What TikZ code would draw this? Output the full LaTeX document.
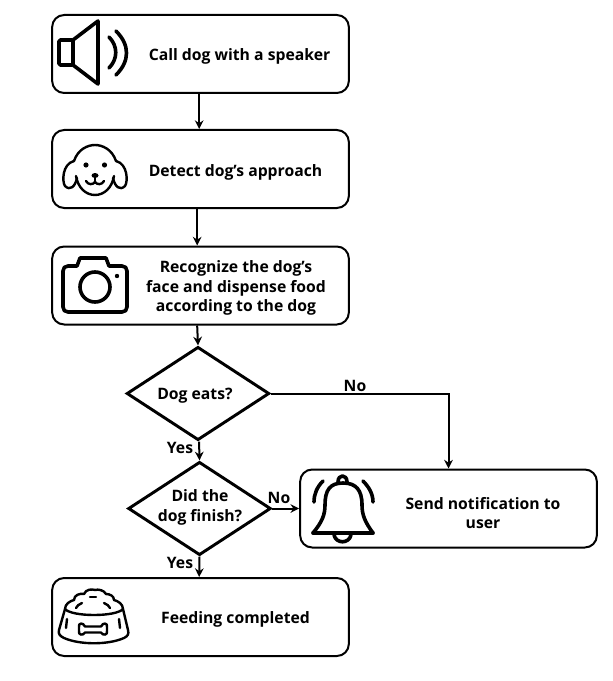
\documentclass[tikz,border=0pt]{standalone}
\usepackage{fontspec}
\setmainfont{Open Sans}
\usetikzlibrary{shapes.geometric}
\usetikzlibrary{arrows.meta}
\tikzset{
  flowbox/.style={draw=black, line width=1.5pt, rounded corners=9pt, minimum width=222.5pt, minimum height=58.5pt, inner sep=0pt},
  flowdiamond/.style={draw=black, line width=2.2pt, shape=diamond, minimum width=107pt, minimum height=70pt, inner sep=0pt},
  flowtext/.style={font=\bfseries\fontsize{11.8}{14.7}\selectfont, align=center, inner sep=0pt},
  flowlabel/.style={font=\bfseries\fontsize{11.8}{14}\selectfont, inner sep=0pt},
  flowarrow/.style={line width=1.5pt, -{Stealth[length=6.5pt,width=6.5pt]}},
  iconline/.style={line width=2.7pt, line cap=round, line join=round},
  iconthin/.style={line width=1.8pt, line cap=round, line join=round}
}
\begin{document}
\begin{tikzpicture}[x=0.75pt, y=-0.75pt]
  \newcommand\boxx{200.5}
  \useasboundingbox (0,0) rectangle (613,681);

  \node[flowbox] (callbox) at (\boxx,54) {};
  \node[flowbox] (detectbox) at (\boxx,169) {};
  \node[flowbox] (recognizebox) at (\boxx,285.5) {};
  \node[flowbox] (notifybox) at (448.5,508.5) {};
  \node[flowbox] (feedingbox) at (\boxx,617) {};

  \node[flowdiamond] (eatsdiamond) at (198,393.5) {};
  \node[flowdiamond] (finishdiamond) at (199.5,508.5) {};

  \node[flowtext] (calltext) at (239.5,56.5) {Call dog with a speaker};
  \node[flowtext] (detecttext) at (235.5,172.5) {Detect dog’s approach};
  \node[flowtext] (recognizetext) at (236,288) {Recognize the dog’s\\face and dispense food\\according to the dog};
  \node[flowtext] (eatstext) at (195,396) {Dog eats?};
  \node[flowtext] (finishtext) at (200,507.5) {Did the\\dog finish?};
  \node[flowtext] (notifytext) at (483,513) {Send notification to\\user};
  \node[flowtext] (feedingtext) at (235.5,619.5) {Feeding completed};

  \node[flowlabel] (nolabela) at (355,386) {No};
  \node[flowlabel] (yeslabela) at (180,448) {Yes};
  \node[flowlabel] (nolabelb) at (279,498) {No};
  \node[flowlabel] (yeslabelb) at (180,563) {Yes};

  \draw[flowarrow] ([xshift=-1pt]callbox.south) -- ([xshift=-1pt]detectbox.north);
  \draw[flowarrow] ([xshift=-2.5pt]detectbox.south) -- ([xshift=-2.5pt]recognizebox.north);
  \draw[flowarrow] ([xshift=-2.5pt]recognizebox.south) -- (eatsdiamond.north);
  \draw[flowarrow] ([xshift=0.8pt]eatsdiamond.south) -- (finishdiamond.north);
  \draw[flowarrow] (finishdiamond.south) -- ([xshift=-1pt]feedingbox.north);
  \draw[flowarrow] (eatsdiamond.east) -| (notifybox.north);
  \draw[flowarrow] (finishdiamond.east) -- (notifybox.west);

  \draw[iconline, rounded corners=1pt] (59,40) rectangle (73,65);
  \draw[iconline] (73,40) -- (98,21) -- (98,84) -- (73,65);
  \draw[iconline] (109,37) .. controls (118,46) and (118,59) .. (109,68);
  \draw[iconline] (116,31) .. controls (130,45) and (130,61) .. (116,75);

  \draw[iconthin] (74,161) .. controls (62,164) and (62,182) .. (65,186) .. controls (70,191) and (75,187) .. (77,178);
  \draw[iconthin] (116,161) .. controls (128,164) and (128,182) .. (125,186) .. controls (120,191) and (115,187) .. (113,178);
  \draw[iconthin] (74,161) .. controls (78,149) and (88,145) .. (95,145) .. controls (102,145) and (112,149) .. (116,161);
  \draw[iconthin] (76,176) .. controls (78,188) and (86,195) .. (95,195) .. controls (104,195) and (112,188) .. (114,176);
  \fill (86,165) circle (2.6);
  \fill (104.5,165) circle (2.6);
  \fill (95,175.5) ellipse (3.5 and 2.5);
  \draw[iconthin] (95,176) -- (95,182);
  \draw[iconthin] (86,181) .. controls (88,185) and (93,185) .. (95,182) .. controls (97,185) and (102,185) .. (104,181);

  \draw[iconline] (68,266) -- (77,266) -- (80,258) -- (106,258) -- (109,266) -- (122,266)
    .. controls (125,266) and (127,268) .. (127,271) -- (127,307)
    .. controls (127,310) and (125,312) .. (122,312) -- (68,312)
    .. controls (65,312) and (63,310) .. (63,307) -- (63,271)
    .. controls (63,268) and (65,266) .. (68,266) -- cycle;
  \draw[iconline] (95,287) circle (15);
  \fill (117,276) circle (2.2);

  \draw[iconline] (313,533) -- (373,533);
  \draw[iconline] (313,533) .. controls (322,522) and (325,515) .. (325,505)
    .. controls (325,490) and (330,483) .. (343,483)
    .. controls (356,483) and (362,490) .. (362,505)
    .. controls (362,515) and (365,522) .. (373,533);
  \draw[iconline] (338,482) .. controls (338,474) and (347,474) .. (347,482);
  \draw[iconline] (334,535) .. controls (336,544) and (349,544) .. (351,535);
  \draw[iconline] (323,481) .. controls (317,487) and (314,494) .. (314,502);
  \draw[iconline] (363,481) .. controls (369,487) and (373,494) .. (373,502);

  \draw[iconthin] (65,609) .. controls (65,604) and (70,601) .. (74,600) .. controls (74,595) and (80,593) .. (84,594)
    .. controls (86,589) and (92,589) .. (95,590) .. controls (98,589) and (104,590) .. (106,594)
    .. controls (110,594) and (114,596) .. (114,600) .. controls (118,601) and (123,604) .. (123,609);
  \draw[iconthin] (65,609) .. controls (72,617) and (116,617) .. (123,609);
  \draw[iconthin] (65,609) -- (59,630) .. controls (58,634) and (60,636) .. (64,638)
    .. controls (80,645) and (108,645) .. (124,638) .. controls (128,636) and (129,634) .. (128,630) -- (123,609);
  \draw[iconthin] (67,619) -- (66,628);
  \draw[iconthin] (119,619) -- (120,628);
  \draw[iconthin] (76,608) .. controls (77,606) and (79,604) .. (82,603);
  \draw[iconthin] (90,597) -- (96,597);
  \draw[iconthin] (104,603) .. controls (107,604) and (109,606) .. (110,608);
  \draw[iconthin] (85,626.5) .. controls (83,622) and (78,623) .. (79,627) .. controls (79,629) and (79,629) .. (79,631)
    .. controls (78,635) and (83,636) .. (85,632.5) -- (101,632.5)
    .. controls (103,636) and (108,635) .. (107,631) .. controls (107,629) and (107,629) .. (107,627)
    .. controls (108,623) and (103,622) .. (101,626.5) -- cycle;
\end{tikzpicture}
\end{document}
